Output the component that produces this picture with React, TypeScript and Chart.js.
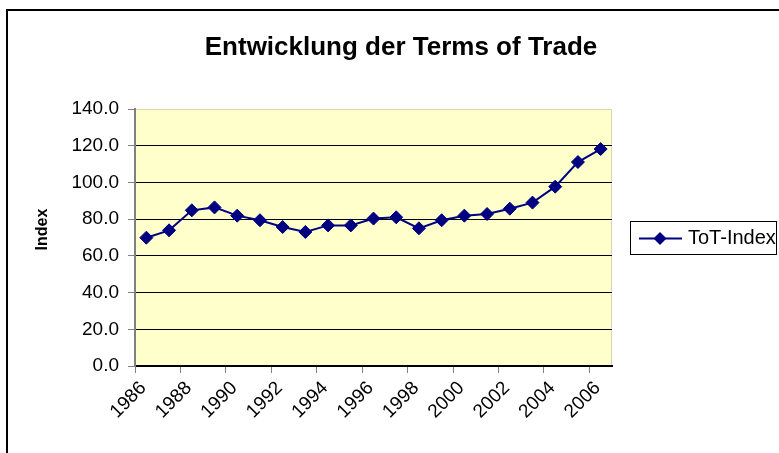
import React, { useEffect, useRef } from 'react';
import { Chart, registerables } from 'chart.js';

Chart.register(...registerables);

// ---- data ----
const years: string[] = [
  '1986', '1987', '1988', '1989', '1990', '1991', '1992', '1993', '1994', '1995', '1996',
  '1997', '1998', '1999', '2000', '2001', '2002', '2003', '2004', '2005', '2006',
];
const totIndex: number[] = [
  69.9, 73.9, 84.8, 86.4, 81.9, 79.4, 75.7, 73.0, 76.6, 76.6, 80.3,
  81.0, 75.0, 79.4, 81.9, 82.8, 85.7, 89.0, 97.7, 111.1, 118.2,
];
const yMin = 0;
const yMax = 140;
const yStep = 20;
const chartTitle = 'Entwicklung der Terms of Trade';
const seriesName = 'ToT-Index';
const yAxisTitle = 'Index';

const FONT = "'Liberation Sans', Arial, Helvetica, sans-serif";
const NAVY = '#000080';

const plotBackground = {
  id: 'plotBackground',
  beforeDraw(chart: any) {
    const { ctx, chartArea: a } = chart;
    ctx.save();
    ctx.fillStyle = '#FFFFCC';
    ctx.fillRect(a.left, a.top, a.right - a.left, a.bottom - a.top);
    ctx.strokeStyle = '#D8D8B0';
    ctx.lineWidth = 1;
    ctx.strokeRect(a.left + 0.5, a.top + 0.5, a.right - a.left - 1, a.bottom - a.top - 1);
    ctx.restore();
  },
};

const texts = {
  id: 'texts',
  afterDraw(chart: any) {
    const { ctx, chartArea: a } = chart;
    ctx.save();
    // chart title, centred over the whole chart object
    ctx.fillStyle = '#000';
    ctx.font = `bold 26px ${FONT}`;
    ctx.textAlign = 'center';
    ctx.textBaseline = 'alphabetic';
    ctx.fillText(chartTitle, 401, 55);
    // y axis title
    ctx.translate(43, (a.top + a.bottom) / 2 - 8);
    ctx.rotate(-Math.PI / 2);
    ctx.font = `bold 16px ${FONT}`;
    ctx.textBaseline = 'middle';
    ctx.fillText(yAxisTitle, 0, 0);
    ctx.restore();
  },
};

const boxedLegend = {
  id: 'boxedLegend',
  afterDraw(chart: any) {
    const { ctx, chartArea: a } = chart;
    const x0 = a.right + 18;
    const w = 146;
    const h = 33;
    const cy = (a.top + a.bottom) / 2;
    const y0 = cy - h / 2;
    ctx.save();
    ctx.strokeStyle = '#000';
    ctx.lineWidth = 1;
    ctx.strokeRect(Math.round(x0) + 0.5, Math.round(y0) + 0.5, w, h);
    ctx.strokeStyle = NAVY;
    ctx.lineWidth = 2;
    ctx.beginPath();
    ctx.moveTo(x0 + 9, cy + 1);
    ctx.lineTo(x0 + 52, cy + 1);
    ctx.stroke();
    const mx = x0 + 30;
    const r = 6.5;
    ctx.fillStyle = NAVY;
    ctx.beginPath();
    ctx.moveTo(mx, cy + 1 - r);
    ctx.lineTo(mx + r, cy + 1);
    ctx.lineTo(mx, cy + 1 + r);
    ctx.lineTo(mx - r, cy + 1);
    ctx.closePath();
    ctx.fill();
    ctx.fillStyle = '#000';
    ctx.font = `20px ${FONT}`;
    ctx.textBaseline = 'middle';
    ctx.textAlign = 'left';
    ctx.fillText(seriesName, x0 + 58, cy + 1);
    ctx.restore();
  },
};

export default function App() {
  const canvasRef = useRef<HTMLCanvasElement | null>(null);

  useEffect(() => {
    if (!canvasRef.current) return;
    const chart = new Chart(canvasRef.current, {
      type: 'line',
      data: {
        labels: years,
        datasets: [
          {
            label: seriesName,
            data: totIndex,
            borderColor: NAVY,
            backgroundColor: NAVY,
            borderWidth: 2,
            pointStyle: 'rectRot',
            pointRadius: 6.5,
            pointHoverRadius: 6.5,
            pointBackgroundColor: NAVY,
            pointBorderColor: NAVY,
            pointBorderWidth: 1,
            tension: 0,
            fill: false,
          },
        ],
      },
      options: {
        responsive: false,
        animation: false,
        devicePixelRatio: 1,
        layout: { padding: { left: 0, right: 167, top: 109, bottom: 0 } },
        plugins: {
          legend: { display: false },
          tooltip: { enabled: false },
          title: { display: false },
        },
        scales: {
          x: {
            type: 'category',
            offset: true,
            afterFit: (s: any) => {
              s.height = 87;
            },
            border: { display: true, color: '#000', width: 2 },
            grid: {
              offset: true,
              drawOnChartArea: false,
              drawTicks: true,
              tickLength: 7,
              color: (c: any) => (c.index % 2 === 0 ? '#808080' : 'rgba(0,0,0,0)'),
            },
            ticks: {
              autoSkip: false,
              minRotation: 45,
              maxRotation: 45,
              padding: 4,
              labelOffset: -3,
              color: '#000',
              font: { family: FONT, size: 19 },
              callback: (_v: any, i: number) => (i % 2 === 0 ? years[i] : ''),
            },
          },
          y: {
            min: yMin,
            max: yMax,
            afterFit: (s: any) => {
              s.width = 135;
            },
            border: { display: true, color: '#808080', width: 2 },
            grid: {
              drawTicks: true,
              tickLength: 7,
              tickColor: '#808080',
              color: (c: any) => (c.tick && c.tick.value === yMax ? 'rgba(0,0,0,0)' : '#000'),
            },
            ticks: {
              stepSize: yStep,
              padding: 9,
              color: '#000',
              font: { family: FONT, size: 19 },
              callback: (v: any) => Number(v).toFixed(1),
            },
          },
        },
      },
      plugins: [plotBackground, texts, boxedLegend],
    });
    return () => chart.destroy();
  }, []);

  return (
    <div
      style={{
        position: 'fixed',
        left: 0,
        top: 0,
        width: 779,
        height: 453,
        overflow: 'hidden',
        background: '#fff',
      }}
    >
      <div
        style={{
          position: 'absolute',
          left: 6,
          top: 9,
          width: 820,
          height: 520,
          border: '2px solid #000',
          boxSizing: 'border-box',
        }}
      />
      <canvas
        ref={canvasRef}
        width={779}
        height={453}
        style={{ position: 'absolute', left: 0, top: 0, width: 779, height: 453 }}
      />
    </div>
  );
}
